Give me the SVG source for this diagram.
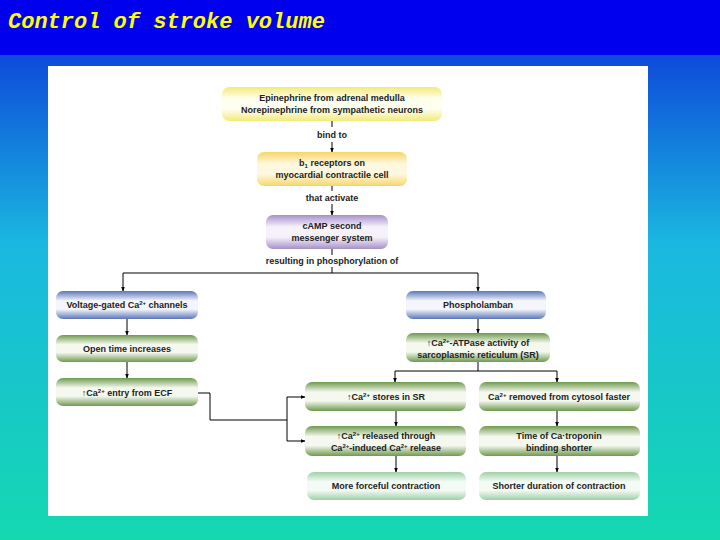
<svg xmlns="http://www.w3.org/2000/svg" width="720" height="540" viewBox="0 0 720 540">
<defs>
<linearGradient id="bg" x1="0" y1="0" x2="0" y2="1"><stop offset="0" stop-color="#0a2ad8"/><stop offset="0.45" stop-color="#1ab8e0"/><stop offset="1" stop-color="#14d8b0"/></linearGradient>
<linearGradient id="gY" x1="0" y1="0" x2="0" y2="1"><stop offset="0" stop-color="#f2ea7a"/><stop offset="0.35" stop-color="#fffff0"/><stop offset="0.65" stop-color="#fffff0"/><stop offset="1" stop-color="#f2ea7a"/></linearGradient>
<linearGradient id="gO" x1="0" y1="0" x2="0" y2="1"><stop offset="0" stop-color="#f5d66a"/><stop offset="0.35" stop-color="#fff8e0"/><stop offset="0.65" stop-color="#fff8e0"/><stop offset="1" stop-color="#f5d66a"/></linearGradient>
<linearGradient id="gP" x1="0" y1="0" x2="0" y2="1"><stop offset="0" stop-color="#a690c8"/><stop offset="0.35" stop-color="#f6f2fb"/><stop offset="0.65" stop-color="#f6f2fb"/><stop offset="1" stop-color="#a690c8"/></linearGradient>
<linearGradient id="gB" x1="0" y1="0" x2="0" y2="1"><stop offset="0" stop-color="#5b76b8"/><stop offset="0.35" stop-color="#f4f6fb"/><stop offset="0.65" stop-color="#f4f6fb"/><stop offset="1" stop-color="#5b76b8"/></linearGradient>
<linearGradient id="gG" x1="0" y1="0" x2="0" y2="1"><stop offset="0" stop-color="#6f9a4e"/><stop offset="0.35" stop-color="#f4f8ef"/><stop offset="0.65" stop-color="#f4f8ef"/><stop offset="1" stop-color="#6f9a4e"/></linearGradient>
<linearGradient id="gL" x1="0" y1="0" x2="0" y2="1"><stop offset="0" stop-color="#9fd0a8"/><stop offset="0.35" stop-color="#f4fbf5"/><stop offset="0.65" stop-color="#f4fbf5"/><stop offset="1" stop-color="#9fd0a8"/></linearGradient>
<marker id="ar" viewBox="0 0 10 10" refX="9" refY="5" markerWidth="5" markerHeight="5" orient="auto"><path d="M0,1 L10,5 L0,9 z" fill="#000"/></marker>
</defs>
<style>
text{font-family:"Liberation Sans",Arial,sans-serif;font-size:9px;font-weight:bold;fill:#222;text-anchor:middle}
.box{rx:7;ry:7}
.c path{fill:none;stroke:#000;stroke-width:1}
.a{marker-end:url(#ar)}
</style>
<rect width="720" height="540" fill="url(#bg)"/>
<rect width="720" height="55" fill="#0000ee"/>
<text x="8" y="28" style="font-family:'Liberation Mono',monospace;font-size:22px;font-style:italic;fill:#ffff00;text-anchor:start;font-weight:bold">Control of stroke volume</text>
<rect x="48" y="66" width="600" height="450" fill="#fff"/>
<g class="c">
<path d="M332,121 V127"/><path class="a" d="M332,142 V152"/>
<path d="M332,186 V191"/><path class="a" d="M332,204 V215"/>
<path d="M332,249 V255"/><path d="M332,267 V273"/>
<path d="M123,273 H478"/><path class="a" d="M123,273 V291"/><path class="a" d="M478,273 V291"/>
<path class="a" d="M127,319 V335"/><path class="a" d="M127,362 V378"/>
<path class="a" d="M478,319 V333"/>
<path d="M478,362 V371"/><path d="M395,371 H557"/><path class="a" d="M395,371 V382"/><path class="a" d="M557,371 V382"/>
<path d="M198,393 H210 V420 H287"/><path class="a" d="M287,420 V397 H305"/><path class="a" d="M287,420 V441 H305"/>
<path class="a" d="M396,411 V426"/><path class="a" d="M557,411 V426"/>
<path class="a" d="M396,456 V472"/><path class="a" d="M557,456 V472"/>
</g>
<text x="332" y="138">bind to</text>
<text x="332" y="201">that activate</text>
<text x="332" y="264">resulting in phosphorylation of</text>
<g id="epi"><rect class="box" x="222" y="87" width="220" height="34" fill="url(#gY)"/><text x="332" y="101">Epinephrine from adrenal medulla</text><text x="332" y="113">Norepinephrine from sympathetic neurons</text></g>
<g id="b1"><rect class="box" x="257" y="152" width="150" height="34" fill="url(#gO)"/><text x="332" y="166">b<tspan font-size="6" dy="2">1</tspan><tspan dy="-2"> receptors on</tspan></text><text x="332" y="178">myocardial contractile cell</text></g>
<g id="camp"><rect class="box" x="266" y="215" width="122" height="34" fill="url(#gP)"/><text x="332" y="229">cAMP second</text><text x="332" y="241">messenger system</text></g>
<g id="vg"><rect class="box" x="56" y="291" width="142" height="28" fill="url(#gB)"/><text x="127" y="308">Voltage-gated Ca<tspan font-size="6" dy="-3">2+</tspan><tspan dy="3"> channels</tspan></text></g>
<g id="open"><rect class="box" x="56" y="335" width="142" height="27" fill="url(#gG)"/><text x="127" y="352">Open time increases</text></g>
<g id="entry"><rect class="box" x="56" y="378" width="142" height="28" fill="url(#gG)"/><text x="127" y="396">↑Ca<tspan font-size="6" dy="-3">2+</tspan><tspan dy="3"> entry from ECF</tspan></text></g>
<g id="pl"><rect class="box" x="406" y="291" width="140" height="28" fill="url(#gB)"/><text x="478" y="308">Phospholamban</text></g>
<g id="atp"><rect class="box" x="406" y="333" width="144" height="29" fill="url(#gG)"/><text x="478" y="346">↑Ca<tspan font-size="6" dy="-3">2+</tspan><tspan dy="3">-ATPase activity of</tspan></text><text x="478" y="358">sarcoplasmic reticulum (SR)</text></g>
<g id="stores"><rect class="box" x="305" y="382" width="161" height="29" fill="url(#gG)"/><text x="386" y="400">↑Ca<tspan font-size="6" dy="-3">2+</tspan><tspan dy="3"> stores in SR</tspan></text></g>
<g id="removed"><rect class="box" x="479" y="382" width="161" height="29" fill="url(#gG)"/><text x="559" y="400">Ca<tspan font-size="6" dy="-3">2+</tspan><tspan dy="3"> removed from cytosol faster</tspan></text></g>
<g id="rel"><rect class="box" x="305" y="426" width="161" height="30" fill="url(#gG)"/><text x="386" y="439">↑Ca<tspan font-size="6" dy="-3">2+</tspan><tspan dy="3"> released through</tspan></text><text x="386" y="451">Ca<tspan font-size="6" dy="-3">2+</tspan><tspan dy="3">-induced Ca</tspan><tspan font-size="6" dy="-3">2+</tspan><tspan dy="3"> release</tspan></text></g>
<g id="time"><rect class="box" x="479" y="426" width="161" height="30" fill="url(#gG)"/><text x="559" y="439">Time of Ca·troponin</text><text x="559" y="451">binding shorter</text></g>
<g id="force"><rect class="box" x="307" y="472" width="159" height="28" fill="url(#gL)"/><text x="386" y="489">More forceful contraction</text></g>
<g id="short"><rect class="box" x="479" y="472" width="161" height="28" fill="url(#gL)"/><text x="559" y="489">Shorter duration of contraction</text></g>
</svg>
